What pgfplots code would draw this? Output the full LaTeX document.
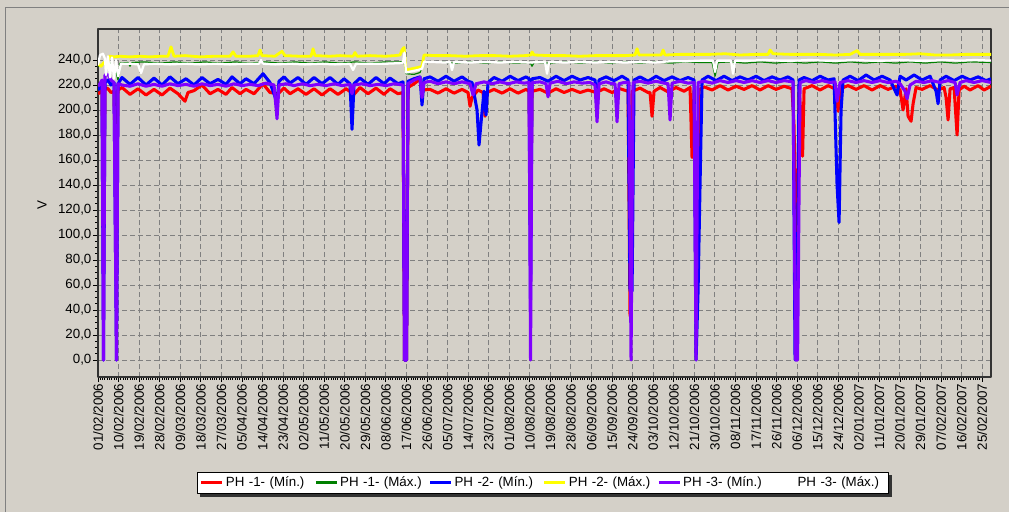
\documentclass[border=0pt]{standalone}
\usepackage{fontspec}
\setmainfont{Liberation Sans}
\usepackage{pgfplots}
\usepackage{pgfplotstable}
\pgfplotsset{compat=1.18}
\pgfdeclarelayer{bg}
\pgfsetlayers{bg,main}
\definecolor{winbg}{HTML}{D4D0C8}
\definecolor{ph1min}{HTML}{FF0000}
\definecolor{ph1max}{HTML}{008000}
\definecolor{ph2min}{HTML}{0000FF}
\definecolor{ph2max}{HTML}{FFFF00}
\definecolor{ph3min}{HTML}{8000FF}
\definecolor{ph3max}{HTML}{FFFFFF}
\definecolor{gridgray}{HTML}{808080}

% px = horizontal position on the time axis (98 = 01/02/2006, 20.56 per 9-day tick), v = volts
\pgfplotstableread{
px v
98 213
100 214
102 216
103.5 107
105 218
108 217
111 214
114 215
116.5 107
118 216
122 218
130 212.5
138 217
146 212
154 216.5
162 212
170 217.5
178 213
185 207
188 214
194 215.5
202 220
210 213
218 216.5
226 212.5
232 218
240 213
246 216.5
254 213
263 221
270 214
278 213
284 217.5
290 213
298 217
306 212.5
314 217
322 212
330 217
338 212.5
346 217
354 212.5
360 218
368 213
376 217.5
384 212.5
390 217
398 213
403 214
404.5 0
406.5 0
408 218
414 221
420 224.5
423 216
430 216.5
438 213.5
446 217
454 213.5
462 216.5
468 214
470 203
472 210
478 216
483 214
485 195
487 214
494 216.5
502 213.5
510 217
518 213.5
526 216.5
529 215
530.5 107
532 215
540 216.5
548 213.5
556 217
564 214
572 216.5
580 214
588 216
596 214
604 217
612 214
620 217
628 215
630 35
632 215
640 217.5
648 214
650 214
652 195
654 215
660 218
668 214.5
676 218
684 215
690 218
692 162
694 216
697 55
699 216
704 218.5
712 216
720 219.5
728 216
736 219
744 216.5
752 219.5
760 216
768 219.5
776 216.5
784 219
792 217
794 187
795.5 108
797 55
799 217
801 194
802.5 163
804 217
812 219.5
820 216
828 219.5
836 216.5
838 199
840 217
848 219.5
856 216.5
864 219.5
872 216
880 219.5
888 216.5
896 219
900 216
903 200
906 217
908 195
911 191
913 205
916 218
922 216.5
930 219.5
938 216
944 218
946 210
948 192
950 217
954 218
957 180
959 216
964 219
970 216
978 219.5
984 216
991 219
}\phAmin

\pgfplotstableread{
px v
98 235
104 237
108 236
112 238
116 230
118 224
120 237.5
128 238
130 235
132 238
145 238.5
160 237.5
175 238.5
190 237.5
205 238.5
220 237.5
235 238.5
250 237.5
265 238.5
280 237.5
295 238.5
310 237.5
325 238.5
340 237.5
355 238.5
370 237.5
385 238.5
400 238.5
404 239
406 229
414 228.5
420 230
424 238
440 238.5
455 237.5
470 238.5
485 237.5
500 238.5
515 237.5
530 238
532 235
534 238
550 237.5
565 238.5
580 237.5
595 238.5
610 237.5
625 238.5
640 237.5
655 238.5
670 237.5
685 238.5
700 238
712 238
715 227
718 238
730 238.5
745 237.5
760 238.5
775 237.5
790 238.5
805 237.5
820 238.5
835 237.5
850 238.5
865 237.5
880 238.5
895 237.5
910 238.5
925 237.5
940 238.5
955 237.5
970 238.5
991 238
}\phAmax

\pgfplotstableread{
px v
98 216
100 218
102 221
103.5 0
105 222
108 224
111 220
114 222
116.5 0
118 221
122 226
130 220.5
138 226
146 220
154 225.5
162 220
170 226.5
178 221
186 225
194 220
202 226
210 221
218 224.5
226 220.5
232 226.5
240 221
246 225
254 221
263 229
270 222
277 206
279 223
284 226.5
290 221.5
298 226
306 220.5
314 226
322 221
330 226
338 220.5
344 225
350 221
352 184.5
354 221
360 225.5
368 220.5
376 226
384 221
390 225.5
398 221
403 222.5
404.5 0
406.5 0
408 223
414 225
420 226.5
422 204
424 225
430 226.5
438 223
446 227
454 223
462 226.5
468 223
472 222
477 200
479 172
481 190
484 215
486 196
488 222
494 226
502 223
510 227
518 223.5
526 226.5
529 225
530.5 48
532 225
540 226
548 223
556 227
564 223.5
572 227
580 224
588 226
595 224
597 200
599 224
606 226.5
614 223.5
622 227
628 224
630 55
632 55
634 224
640 226.5
648 223
656 227
664 223.5
672 226.5
680 223.5
688 226
694 224
696 0
698 55
700 141
702 224
708 227
716 223.5
724 227
732 223.5
740 226.5
748 224
756 227
764 223.5
772 226.5
780 224
788 226.5
793 224
795 0
797 35
799 224
804 226
812 223.5
820 227
828 224
834 225
837 140
839 110
841 200
843 224
850 227
858 223.5
866 228
874 224
882 227
890 224
897 212
900 227
906 224
914 228
922 224
930 227
936 215
938 205
940 224
946 227
954 223.5
962 227
970 224
978 226.5
986 223.5
991 225
}\phBmin

\pgfplotstableread{
px v
98 237
101 235
104 238
107 236
109 243
114 242.5
120 243
130 242.5
140 243
150 242.5
160 243
168 243
171 250.5
174 243
185 243.5
200 242.5
215 243
230 243
233 246.5
236 243
250 243
258 243.5
260 248
262 243.5
275 243
282 247
285 243.5
300 243
311 243
313 249
315 243.5
330 243
340 243.5
353 243
355 246
357 243
370 243.5
385 243
395 243.5
400 244
402 248
404 250
406 232
412 233
418 234
422 235
424 244
435 243.5
450 243.5
465 243
480 243.5
495 243.5
510 243
525 243.5
531 244
532 246.5
534 244
550 243.5
565 243.5
580 243
595 243.5
610 243.5
625 243.5
635 244
637 249
639 244
650 244
661 244
663 248
665 244
680 244.5
695 244.5
710 244.5
725 245
740 244
755 244.5
768 244.5
770 248
773 245
790 244.5
805 244.5
820 244.5
835 244
850 244.5
857 247.5
860 244.5
875 244.5
890 244.5
905 244.5
920 245
935 244
950 244
965 244.5
980 244.5
991 244.5
}\phBmax

\pgfplotstableread{
px v
98 219
100 221
102 224
103.5 0
105 228
108 228.5
111 224
114 222
116.5 0
118 221
122 220
130 219
138 221
146 219
154 220.5
162 219
170 221
178 219.5
186 220.5
194 219
202 221
210 219.5
218 220.5
226 219
234 221
242 219.5
250 220.5
258 219.5
266 221.5
274 220
277 193
279 220
286 221
294 219.5
302 221
310 219.5
318 220.5
326 219.5
334 221
342 219.5
350 220.5
352 213
354 220
362 221
370 219.5
378 220.5
386 219.5
394 221
403 220
404.5 0
406.5 0
408 221
414 224
420 226
422 210
424 222
430 223
438 221
446 222.5
454 221
462 222.5
470 221
473 212
476 221
484 222.5
492 221
500 222.5
508 221
516 222.5
524 221.5
529 222
530.5 0
532 222
540 222.5
546 221
548 210.5
550 221.5
558 223
566 221
574 222.5
582 221.5
590 222
595 220
597 190.5
599 221
606 222.5
612 221
615 221
617 190.5
619 221
624 222
629 222
631 0
633 222
640 223
648 221.5
656 223
664 221.5
668 221
670 192
672 221.5
680 223
688 221.5
694 222
696 0
698 222
704 223
712 221.5
720 223.5
728 222
736 223.5
744 222
752 223.5
760 222
768 223.5
776 222
784 223.5
793 222.5
795.5 0
797.5 0
800 222
806 223.5
814 222
822 223.5
830 222
835 222.5
837 207
840 222
848 223.5
856 222
864 223.5
872 222
880 223.5
888 222
896 223
900 221
905 215
907 209
910 220
916 223
924 222
932 223.5
940 222
948 223.5
955 222
957 212
960 222
966 223.5
974 222
982 223.5
991 222
}\phCmin

\pgfplotstableread{
px v
98 236
100 244
103 245
105 241
106 228
108 243
110 226
112 242
114 225
116 240
118 227
121 237
130 237
138 236.5
141 229.5
144 236.5
155 237
170 236.5
185 237
200 236.5
215 237
230 236.5
245 237
259 237
261 240
263 237
275 236.5
290 237
305 236.5
320 237
335 236.5
350 237
353 232
356 237
370 237
385 237
400 237.5
403 238
404.5 246
406 230
412 231
418 232
422 233
424 238.5
430 238.5
445 238
450 238.5
452 232
454 238.5
470 238
485 238.5
500 238
515 238.5
530 238
545 238.5
547 229
549 238.5
565 238
580 238.5
595 238
610 238.5
625 238
640 238.5
655 238
670 239
685 239
700 239.5
713 239.5
715 230.5
717 239.5
731 239.5
733 229
735 239.5
750 239.5
765 240
780 239.5
795 239.5
810 240
825 239.5
840 239.5
855 240
870 239.5
885 239.5
900 240
915 239.5
930 239.5
945 240
960 239.5
975 240
991 239.5
}\phCmax

\begin{document}
\begin{tikzpicture}
\begin{pgfonlayer}{bg}
\fill[winbg] (0,0) rectangle (756.75pt,384pt);
\end{pgfonlayer}
\useasboundingbox (0,0) rectangle (756.75pt,384pt);
\draw[gridgray, line width=0.75pt] (3.75pt,0) -- (3.75pt,378pt) -- (756.75pt,378pt);
\begin{axis}[
  at={(73.5pt,101.25pt)}, anchor=south west,
  scale only axis, width=669.75pt, height=261pt,
  xmin=0, xmax=43.43, ymin=-13.6, ymax=264.8,
  axis background/.style={fill=winbg},
  axis line style={black!80, line width=1.1pt},
  xtick={0,...,43},
  xticklabels={01/02/2006,10/02/2006,19/02/2006,28/02/2006,09/03/2006,18/03/2006,27/03/2006,05/04/2006,14/04/2006,23/04/2006,02/05/2006,11/05/2006,20/05/2006,29/05/2006,08/06/2006,17/06/2006,26/06/2006,05/07/2006,14/07/2006,23/07/2006,01/08/2006,10/08/2006,19/08/2006,28/08/2006,06/09/2006,15/09/2006,24/09/2006,03/10/2006,12/10/2006,21/10/2006,30/10/2006,08/11/2006,17/11/2006,26/11/2006,06/12/2006,15/12/2006,24/12/2006,02/01/2007,11/01/2007,20/01/2007,29/01/2007,07/02/2007,16/02/2007,25/02/2007},
  ytick={0,20,...,240},
  yticklabels={{0,0},{20,0},{40,0},{60,0},{80,0},{100,0},{120,0},{140,0},{160,0},{180,0},{200,0},{220,0},{240,0}},
  xtick pos=bottom, ytick pos=left,
  minor x tick num=8, minor y tick num=3,
  tick align=outside, major tick length=3.75pt, minor tick length=2pt,
  every tick/.style={black, line width=0.6pt},
  tick label style={font=\fontsize{10}{12}\selectfont},
  x tick label style={rotate=90, anchor=east, inner sep=1pt},
  y tick label style={inner sep=1pt},
  xmajorgrids, ymajorgrids,
  grid style={gridgray, line width=0.7pt, dash pattern=on 3.5pt off 2.5pt},
  ylabel={V},
  ylabel style={at={(axis description cs:-0.0627,0.494)}, anchor=center, font=\fontsize{10}{12}\selectfont},
  legend columns=6,
  legend style={name=leg, at={(0.1109,-0.2721)}, anchor=north west, draw=black, fill=white, line width=0.8pt,
    font=\fontsize{10}{12}\selectfont, inner xsep=1.8pt, inner ysep=2.8pt,
    /tikz/every odd column/.append style={column sep=1.5pt},
    nodes={inner sep=0pt, text width=66.3pt, align=left, text height=7.6pt, text depth=2.6pt}},
  legend image code/.code={\draw[#1, line width=2.2pt] (0pt,0pt) -- (15.75pt,0pt);},
  line join=round,
]
\addplot[ph1min, line width=2.3pt] table[x expr={(\thisrow{px}-98)/20.56}, y=v] {\phAmin};
\addlegendentry{PH -1- (Mín.)}
\addplot[ph1max, line width=0.9pt] table[x expr={(\thisrow{px}-98)/20.56}, y=v] {\phAmax};
\addlegendentry{PH -1- (Máx.)}
\addplot[ph2min, line width=2.3pt] table[x expr={(\thisrow{px}-98)/20.56}, y=v] {\phBmin};
\addlegendentry{PH -2- (Mín.)}
\addplot[ph2max, line width=2.1pt] table[x expr={(\thisrow{px}-98)/20.56}, y=v] {\phBmax};
\addlegendentry{PH -2- (Máx.)}
\addplot[ph3min, line width=2.3pt] table[x expr={(\thisrow{px}-98)/20.56}, y=v] {\phCmin};
\addlegendentry{PH -3- (Mín.)}
\addplot[ph3max, line width=1.7pt] table[x expr={(\thisrow{px}-98)/20.56}, y=v] {\phCmax};
\addlegendentry{PH -3- (Máx.)}
\end{axis}
\begin{pgfonlayer}{bg}
\fill[black!80] ([shift={(2.2pt,-2.2pt)}]leg.south west) rectangle ([shift={(2.2pt,-2.2pt)}]leg.north east);
\end{pgfonlayer}
\end{tikzpicture}
\end{document}
